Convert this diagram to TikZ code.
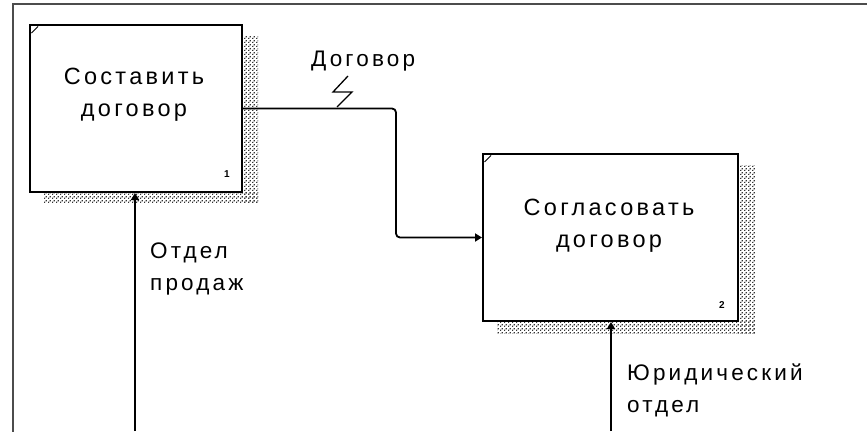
\documentclass[tikz,border=0pt]{standalone}
\usepackage{fontspec}
\setmainfont{Liberation Sans}
\newfontfamily\boxfont[LetterSpace=14]{Liberation Sans}
\usetikzlibrary{arrows.meta,patterns}
\pgfdeclarepatternformonly{idefdots}{\pgfqpoint{0pt}{0pt}}{\pgfqpoint{4pt}{4pt}}{\pgfqpoint{4pt}{4pt}}{%
  \pgfpathrectangle{\pgfqpoint{0pt}{0pt}}{\pgfqpoint{1.5pt}{1.5pt}}%
  \pgfpathrectangle{\pgfqpoint{2pt}{2pt}}{\pgfqpoint{1.5pt}{1.5pt}}%
  \pgfusepath{fill}}
\begin{document}
\begin{tikzpicture}[x=1pt,y=-1pt,
  proc/.style={draw=black,line width=2pt,fill=white,inner sep=0pt},
  shadow/.style={pattern=idefdots,pattern color=black!80},
  txt/.style={font=\boxfont\fontsize{23.5}{32}\selectfont,inner sep=0pt},
  lbl/.style={font=\boxfont\fontsize{22.5}{32}\selectfont,inner sep=0pt,align=left,anchor=west},
  num/.style={font=\bfseries\fontsize{10}{10}\selectfont,inner sep=0pt},
  conn/.style={draw=black,line width=1.8pt},
  arr/.style={conn,-{Triangle[length=7pt,width=8pt]}}]
\useasboundingbox (0,0) rectangle (867,431);
\fill[white] (0,0) rectangle (867,431);
% outer frame
\draw[line width=2pt,draw=black!70] (13,432) -- (13,4) -- (868,4);
% shadows
\fill[shadow] (242,35) rectangle (258,203);
\fill[shadow] (43,192) rectangle (258,203);
\fill[shadow] (738,165) rectangle (755,333);
\fill[shadow] (497,321) rectangle (755,333);
% boxes
\node[proc,minimum width=212pt,minimum height=167pt] (b1) at (136,108.5) {};
\node[proc,minimum width=255pt,minimum height=167pt] (b2) at (610.5,237.5) {};
\draw[line width=1pt] (31.5,33) -- (38,26.5);
\draw[line width=1pt] (484.5,162) -- (491,155.5);
\node[txt,align=center] (t1) at (134,95) {Составить\\договор};
\node[txt,align=center] (t2) at (609,226) {Согласовать\\договор};
\node[num] (n1) at (227,174) {1};
\node[num] (n2) at (722,305) {2};
% output -> input
\draw[arr,rounded corners=4pt] (b1.east) -- (396,108.5) -- (396,237.5) -- (b2.west);
\node[lbl] (l1) at (311,61) {Договор};
\draw[line width=1.3pt] (348,76) -- (333,92) -- (352,92) -- (337,107);
% mechanisms
\coordinate (m1) at (135,431);
\coordinate (m2) at (611,431);
\draw[arr] (m1) -- (b1.south -| m1);
\draw[arr] (m2) -- (b2.south -| m2);
\node[lbl] (l2) at (150,269) {Отдел\\продаж};
\node[lbl] (l3) at (627,390) {Юридический\\отдел};
\end{tikzpicture}
\end{document}
